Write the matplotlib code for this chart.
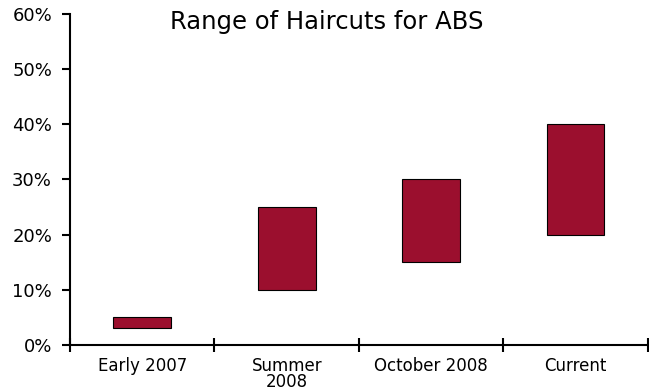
import numpy as np
import matplotlib.pyplot as plt
from matplotlib.ticker import PercentFormatter

categories = ["Early 2007", "Summer\n2008", "October 2008", "Current"]
low = [3, 10, 15, 20]
high = [5, 25, 30, 40]

# the reference lettering is wide, DejaVu Sans is the closest wide sans
plt.rcParams['font.family'] = ['DejaVu Sans']

fig = plt.figure(figsize=(6.49, 3.91), dpi=100)
ax = fig.add_axes([0.108, 0.118, 0.89, 0.846])

x = np.arange(len(categories)) + 0.5
heights = np.array(high) - np.array(low)
ax.bar(x, heights, bottom=low, width=0.4, color='#9B0F2E',
       edgecolor='black', linewidth=0.8)

ax.set_xlim(0, len(categories))
ax.set_ylim(0, 60)
ax.set_yticks(np.arange(0, 61, 10))
ax.yaxis.set_major_formatter(PercentFormatter(decimals=0))

ax.set_xticks(x)
ax.set_xticklabels(categories, fontsize=12, linespacing=0.85)
ax.set_xticks(np.arange(0, len(categories) + 1), minor=True)
ax.tick_params(axis='x', which='major', length=0, pad=9)
ax.tick_params(axis='x', which='minor', direction='inout', length=10, width=1.5)
ax.tick_params(axis='y', direction='out', length=6, width=1.5, labelsize=13, pad=7)

for s in ['top', 'right']:
    ax.spines[s].set_visible(False)
for s in ['left', 'bottom']:
    ax.spines[s].set_linewidth(1.5)

fig.text(0.504, 0.943, "Range of Haircuts for ABS", ha='center', va='center', fontsize=17.5)

fig.savefig('out.png', dpi=100)
